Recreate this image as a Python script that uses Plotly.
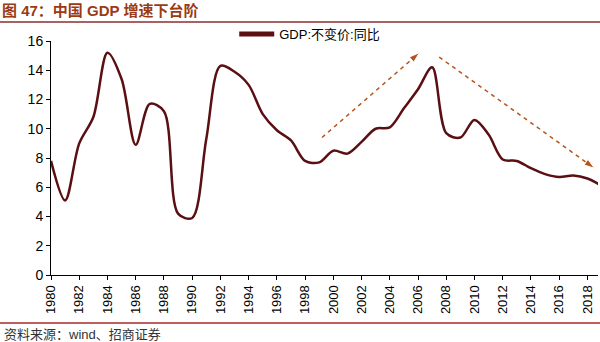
import plotly.graph_objects as go

years = list(range(1980, 2020))
gdp_growth = [7.8, 5.1, 9.0, 10.8, 15.2, 13.4, 8.9, 11.7, 11.2, 4.2,
              3.9, 9.3, 14.3, 13.9, 13.0, 11.0, 9.9, 9.2, 7.8, 7.7,
              8.5, 8.3, 9.1, 10.0, 10.1, 11.4, 12.7, 14.2, 9.7, 9.4,
              10.6, 9.6, 7.9, 7.8, 7.3, 6.9, 6.7, 6.8, 6.6, 6.1]
tick_years = list(range(1980, 2019, 2))
series_name = "GDP:不变价:同比"

# trend arrows (start, end) in data units
arrow_up_x = [1999.2, 2006.1]
arrow_up_y = [9.4, 15.2]
arrow_down_x = [2007.5, 2018.5]
arrow_down_y = [14.9, 7.3]

line_color = "#5A0F12"
arrow_color = "#B5541C"

fig = go.Figure()
fig.add_trace(go.Scatter(
    x=years, y=gdp_growth, mode="lines", name=series_name,
    line=dict(color=line_color, width=2.5, shape="spline", smoothing=0.9),
))
for ax_, ay_ in [(arrow_up_x, arrow_up_y), (arrow_down_x, arrow_down_y)]:
    fig.add_trace(go.Scatter(
        x=ax_, y=ay_, mode="lines+markers", showlegend=False, hoverinfo="skip",
        line=dict(color=arrow_color, width=1.5, dash="4px,4px"),
        marker=dict(symbol="arrow", size=[0, 11], angleref="previous",
                    color=arrow_color, opacity=[0, 1]),
        cliponaxis=False,
    ))

font_main = "Liberation Sans, Arial, Noto Sans CJK SC, sans-serif"

fig.update_layout(
    width=600, height=342,
    margin=dict(l=51, r=2, t=41, b=67),
    paper_bgcolor="white", plot_bgcolor="white",
    font=dict(family=font_main, size=13, color="#000000"),
    showlegend=True,
    legend=dict(orientation="h", x=0.473, xanchor="center", y=1.03, yanchor="middle",
                font=dict(size=13, color="#000000"), bgcolor="rgba(0,0,0,0)",
                itemwidth=35, itemsizing="constant"),
    xaxis=dict(range=[1980, 2018.75], tickmode="array", tickvals=tick_years,
               ticktext=[str(y) for y in tick_years], tickangle=-90,
               showgrid=False, zeroline=False, showline=True, linecolor="#000000",
               linewidth=1, ticks="outside", ticklen=4, tickcolor="#000000",
               tickfont=dict(size=13)),
    yaxis=dict(range=[0, 16], tickmode="array", tickvals=list(range(0, 17, 2)),
               showgrid=False, zeroline=False, showline=True, linecolor="#000000",
               linewidth=1, ticks="outside", ticklen=4, tickcolor="#000000",
               tickfont=dict(size=14)),
    shapes=[
        dict(type="line", xref="paper", yref="paper", x0=-0.1, x1=1.01,
             y0=1.0 + (41 - 22) / 234, y1=1.0 + (41 - 22) / 234,
             line=dict(color="#8B2E2E", width=1.5)),
        dict(type="line", xref="paper", yref="paper", x0=-0.1, x1=1.01,
             y0=-(323 - 275) / 234, y1=-(323 - 275) / 234,
             line=dict(color="#A52A2A", width=1.5)),
    ],
    annotations=[
        dict(text="<b>图 47：中国 GDP 增速下台阶</b>", xref="paper", yref="paper",
             x=-51 / 547, y=1.0 + (41 - 10) / 234, xanchor="left", yanchor="middle",
             showarrow=False, font=dict(size=15, color="#9A3B14",
                                        family="Liberation Sans, Noto Sans CJK SC, sans-serif")),
        dict(text="资料来源：wind、招商证券", xref="paper", yref="paper",
             x=-49 / 547, y=-(334 - 275) / 234, xanchor="left", yanchor="middle",
             showarrow=False, font=dict(size=13, color="#333333")),
    ],
)

fig.write_html("out.html")
